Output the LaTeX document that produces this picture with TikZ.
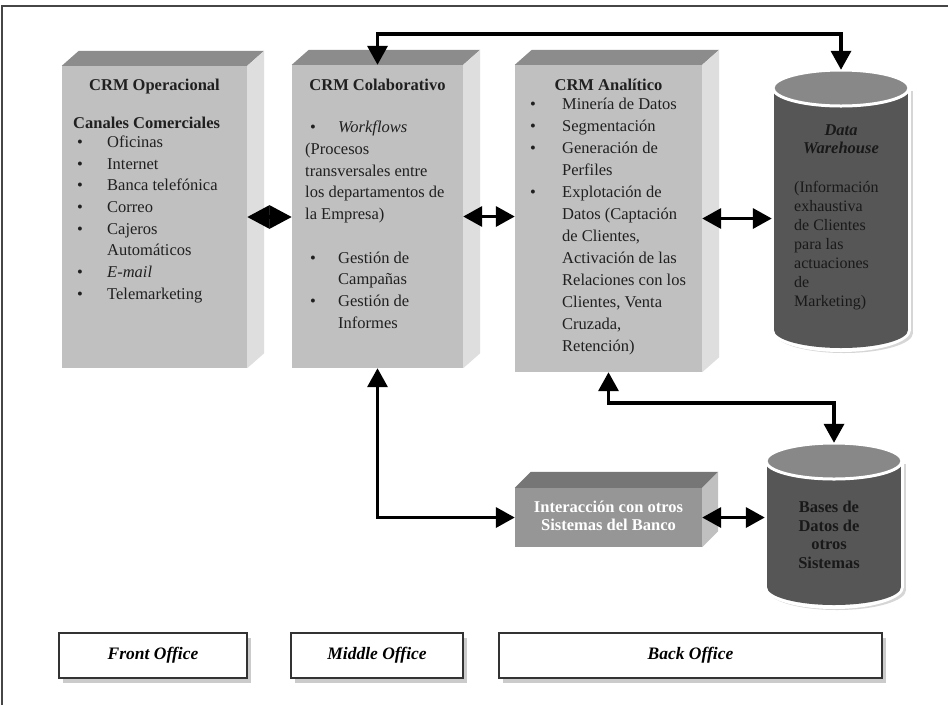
\documentclass[tikz,border=0pt]{standalone}
\usepackage{fontspec}
\setmainfont{Liberation Serif}
\usetikzlibrary{arrows.meta,shadows}
\definecolor{frontc}{RGB}{192,192,192}
\definecolor{topc}{RGB}{140,140,140}
\definecolor{sidec}{RGB}{222,222,222}
\definecolor{txtc}{RGB}{32,32,32}
\definecolor{ifront}{RGB}{150,150,150}
\definecolor{itop}{RGB}{118,118,118}
\definecolor{iside}{RGB}{192,192,192}
\definecolor{cylbody}{RGB}{86,86,86}
\definecolor{cyltop}{RGB}{136,136,136}
\definecolor{framec}{RGB}{70,70,70}
\newcommand\cubefaces[5]{%
  \fill[#4] (#1.north west) -- ([xshift=#2pt,yshift=#3pt]#1.north west)
     -- ([xshift=#2pt,yshift=#3pt]#1.north east) -- (#1.north east) -- cycle;
  \fill[#5] (#1.north east) -- ([xshift=#2pt,yshift=#3pt]#1.north east)
     -- ([xshift=#2pt,yshift=#3pt]#1.south east) -- (#1.south east) -- cycle;}
\newcommand\cylfaces[4]{% #1 cx, #2 top-ellipse y, #3 bottom-ellipse y, #4 ry
  \fill[black!16] (#1-66,#2+3) rectangle (#1+72,#3+3);
  \fill[black!16] (#1+3,#3+3) ellipse[x radius=69, y radius=#4+2];
  \fill[white] (#1-70,#2) rectangle (#1+70,#3);
  \fill[white] (#1,#3) ellipse[x radius=70, y radius=#4+4];
  \fill[cylbody] (#1-67,#2) rectangle (#1+67,#3);
  \fill[cylbody] (#1,#3) ellipse[x radius=67, y radius=#4];
  \filldraw[fill=cyltop, draw=white, line width=3pt] (#1,#2) ellipse[x radius=68, y radius=#4];}
\begin{document}
\begin{tikzpicture}[x=1pt,y=-1pt,
  front/.style={fill=frontc, inner sep=0pt},
  ifrontbox/.style={fill=ifront, inner sep=0pt},
  title/.style={font=\fontsize{16.5}{18}\selectfont\bfseries, text=txtc, inner sep=0pt},
  body/.style={font=\fontsize{16.5}{21.7}\selectfont, text=txtc, align=left, inner sep=0pt},
  cylhold/.style={inner sep=0pt, minimum width=138pt},
  conn/.style={line width=3.5pt, black, {Triangle[length=19pt,width=20pt]}-{Triangle[length=19pt,width=20pt]}},
  connd/.style={line width=3.5pt, black, {Triangle[length=22.5pt,width=23pt]}-{Triangle[length=22.5pt,width=23pt]}},
  office/.style={draw=black!80, line width=1.2pt, fill=white, inner sep=0pt,
     minimum height=45pt, font=\fontsize{17.5}{20}\selectfont\bfseries\itshape,
     drop shadow={shadow xshift=4pt, shadow yshift=-5pt, fill=black!40}}]
\useasboundingbox (0,0) rectangle (948,705);
\fill[white] (0,0) rectangle (948,705);
\draw[framec, line width=1.5pt] (2,705) -- (2,6) -- (948,6);

% ---- CRM boxes
\node[front, minimum width=185pt, minimum height=302pt] (op) at (154.5,217) {};
\cubefaces{op}{17}{15}{topc}{sidec}
\node[front, minimum width=171pt, minimum height=303pt] (col) at (377.5,216.5) {};
\cubefaces{col}{17}{15}{topc}{sidec}
\node[front, minimum width=187pt, minimum height=307pt] (ana) at (608.5,218.5) {};
\cubefaces{ana}{17}{15}{topc}{sidec}

\node[title, anchor=base] (opt) at (154.5,90.5) {CRM Operacional};
\node[body, anchor=north west] (opb) at (73,117) {%
\textbf{Canales Comerciales}\\[-3pt]
\hspace*{4pt}\makebox[30pt][l]{\textbullet}Oficinas\\
\hspace*{4pt}\makebox[30pt][l]{\textbullet}Internet\\
\hspace*{4pt}\makebox[30pt][l]{\textbullet}Banca telefónica\\
\hspace*{4pt}\makebox[30pt][l]{\textbullet}Correo\\
\hspace*{4pt}\makebox[30pt][l]{\textbullet}Cajeros\\
\hspace*{34pt}Automáticos\\
\hspace*{4pt}\makebox[30pt][l]{\textbullet}\textit{E-mail}\\
\hspace*{4pt}\makebox[30pt][l]{\textbullet}Telemarketing};

\node[title, anchor=base] (colt) at (377.5,90.5) {CRM Colaborativo};
\node[body, anchor=north west] (colb) at (305,121) {%
\hspace*{5pt}\makebox[28pt][l]{\textbullet}\textit{Workflows}\\
(Procesos\\
transversales entre\\
los departamentos de\\
la Empresa)\\[21.7pt]
\hspace*{5pt}\makebox[28pt][l]{\textbullet}Gestión de\\
\hspace*{33pt}Campañas\\
\hspace*{5pt}\makebox[28pt][l]{\textbullet}Gestión de\\
\hspace*{33pt}Informes};

\node[title, anchor=base] (anat) at (608.5,90.5) {CRM Analítico};
\node[body, font=\fontsize{16.5}{22}\selectfont, anchor=north west] (anab) at (530,98) {%
\makebox[32pt][l]{\textbullet}Minería de Datos\\
\makebox[32pt][l]{\textbullet}Segmentación\\
\makebox[32pt][l]{\textbullet}Generación de\\
\hspace*{32pt}Perfiles\\
\makebox[32pt][l]{\textbullet}Explotación de\\
\hspace*{32pt}Datos (Captación\\
\hspace*{32pt}de Clientes,\\
\hspace*{32pt}Activación de las\\
\hspace*{32pt}Relaciones con los\\
\hspace*{32pt}Clientes, Venta\\
\hspace*{32pt}Cruzada,\\
\hspace*{32pt}Retención)};

% ---- Interaccion box
\node[ifrontbox, minimum width=187pt, minimum height=59pt] (int) at (608.5,517.5) {};
\cubefaces{int}{16}{16}{itop}{iside}
\node[font=\fontsize{16.5}{18}\selectfont\bfseries, text=white, align=center, inner sep=0pt] (intt) at (608.5,516) {Interacción con otros\\Sistemas del Banco};

% ---- cylinders
\node[cylhold, minimum height=278pt] (dw) at (841,209) {};
\cylfaces{841}{88}{330}{18}
\node[font=\fontsize{16.5}{18}\selectfont\bfseries\itshape, text=black!90, align=center, inner sep=0pt] (dwt) at (841,139) {Data\\Warehouse};
\node[body, text=black!90, font=\fontsize{16}{19}\selectfont, anchor=north west] (dwb) at (794,181) {%
(Información\\exhaustiva\\de Clientes\\para las\\actuaciones\\de\\Marketing)};

\node[cylhold, minimum height=162pt] (bdb) at (834,524) {};
\cylfaces{834}{461}{587}{18}
\node[font=\fontsize{16.5}{18.5}\selectfont\bfseries, text=black!90, align=center, inner sep=0pt] (bdbt) at (829,535) {Bases de\\Datos de\\otros\\Sistemas};

% ---- connectors
\coordinate (ybar) at (0,34);
\draw[connd] (op.east) -- (op.east -| col.west);
\draw[conn] (col.east) -- (col.east -| ana.west);
\draw[conn] (ana.east) -- (ana.east -| dw.west);
\draw[conn] (col.north) -- (col.north |- ybar) -| (dw.north);
\draw[conn] (col.south) |- (int.west);
\draw[conn] (ana.south) -- ++(0,31) -| (bdb.north);
\draw[conn] (int.east) -- (int.east -| bdb.west);

% ---- office labels
\node[office, minimum width=188pt] (fo) at (153,655.5) {Front Office};
\node[office, minimum width=172pt] (mo) at (377,655.5) {Middle Office};
\node[office, minimum width=383pt] (bo) at (690.5,655.5) {Back Office};
\end{tikzpicture}
\end{document}
